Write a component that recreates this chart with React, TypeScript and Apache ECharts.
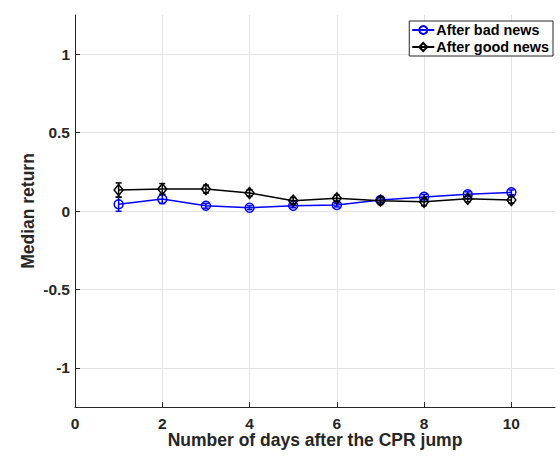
import React, { useEffect, useRef } from "react";
import * as echarts from "echarts";

const days = [1, 2, 3, 4, 5, 6, 7, 8, 9, 10];
const badMedian = [0.043, 0.077, 0.033, 0.021, 0.033, 0.038, 0.07, 0.09, 0.107, 0.119];
const badErr = [0.045, 0.03, 0.015, 0.012, 0.012, 0.012, 0.015, 0.015, 0.015, 0.015];
const goodMedian = [0.134, 0.14, 0.14, 0.115, 0.066, 0.081, 0.066, 0.059, 0.078, 0.07];
const goodErr = [0.045, 0.035, 0.025, 0.02, 0.02, 0.02, 0.025, 0.025, 0.02, 0.02];
const xTicks = [0, 2, 4, 6, 8, 10];
const yTicks = [-1, -0.5, 0, 0.5, 1];

const FONT = "'Liberation Sans', Arial, Helvetica, sans-serif";
const TXT = "#262626";

function errorSeries(name: string, med: number[], err: number[], color: string, z: number) {
  return {
    type: "custom",
    name: name + " err",
    z,
    silent: true,
    data: days.map((d, i) => [d, med[i] - err[i], med[i] + err[i]]),
    renderItem: (params: any, api: any) => {
      const lo = api.coord([api.value(0), api.value(1)]);
      const hi = api.coord([api.value(0), api.value(2)]);
      const cw = 3;
      const style = { stroke: color, lineWidth: 1.5 };
      return {
        type: "group",
        children: [
          { type: "line", shape: { x1: lo[0], y1: lo[1], x2: hi[0], y2: hi[1] }, style },
          { type: "line", shape: { x1: lo[0] - cw, y1: lo[1], x2: lo[0] + cw, y2: lo[1] }, style },
          { type: "line", shape: { x1: hi[0] - cw, y1: hi[1], x2: hi[0] + cw, y2: hi[1] }, style },
        ],
      };
    },
  };
}

export default function App() {
  const ref = useRef<HTMLDivElement>(null);
  useEffect(() => {
    const chart = echarts.init(ref.current!, undefined, { renderer: "svg" });
    chart.setOption({
      animation: false,
      backgroundColor: "#ffffff",
      textStyle: { fontFamily: FONT },
      grid: { left: 75, right: 5, top: 15, bottom: 50 },
      legend: {
        orient: "vertical",
        right: 7,
        top: 21,
        padding: [2, 4, 2, 2],
        itemGap: 3,
        itemWidth: 22,
        itemHeight: 10,
        backgroundColor: "#ffffff",
        borderColor: TXT,
        borderWidth: 1,
        borderRadius: 0,
        textStyle: { fontFamily: FONT, fontWeight: "bold", fontSize: 14.4, color: "#000", padding: [0, 0, 0, -3] },
        data: ["After bad news", "After good news"],
      },
      xAxis: {
        type: "value",
        min: 0,
        max: 11,
        name: "Number of days after the CPR jump",
        nameLocation: "middle",
        nameGap: 24,
        nameMoveOverlap: false,
        nameTextStyle: { fontFamily: FONT, fontWeight: "bold", fontSize: 17.5, color: TXT },
        axisLine: { show: true, onZero: false, lineStyle: { color: TXT, width: 1 } },
        axisTick: { show: true, inside: true, length: 5, customValues: xTicks, lineStyle: { color: TXT } },
        axisLabel: { customValues: xTicks, fontFamily: FONT, fontWeight: "bold", fontSize: 15.5, color: TXT, margin: 8 },
        splitLine: { show: true, lineStyle: { color: "#e3e3e3", width: 1 } },
      },
      yAxis: {
        type: "value",
        min: -1.25,
        max: 1.25,
        name: "Median return",
        nameLocation: "middle",
        nameGap: 38,
        nameMoveOverlap: false,
        nameTextStyle: { fontFamily: FONT, fontWeight: "bold", fontSize: 17.5, color: TXT },
        axisLine: { show: true, onZero: false, lineStyle: { color: TXT, width: 1 } },
        axisTick: { show: true, inside: true, length: 5, customValues: yTicks, lineStyle: { color: TXT } },
        axisLabel: { customValues: yTicks, fontFamily: FONT, fontWeight: "bold", fontSize: 15.5, color: TXT, margin: 5 },
        splitLine: { show: true, lineStyle: { color: "#e3e3e3", width: 1 } },
      },
      series: [
        errorSeries("After bad news", badMedian, badErr, "#0000ff", 3),
        {
          type: "line",
          name: "After bad news",
          z: 4,
          data: days.map((d, i) => [d, badMedian[i]]),
          symbol: "circle",
          symbolSize: 9,
          showSymbol: true,
          lineStyle: { color: "#0000ff", width: 1.5 },
          itemStyle: { color: "rgba(0,0,0,0)", borderColor: "#0000ff", borderWidth: 1.5 },
        },
        errorSeries("After good news", goodMedian, goodErr, "#000000", 5),
        {
          type: "line",
          name: "After good news",
          z: 6,
          data: days.map((d, i) => [d, goodMedian[i]]),
          symbol: "diamond",
          symbolSize: [9, 11],
          showSymbol: true,
          lineStyle: { color: "#000000", width: 1.5 },
          itemStyle: { color: "rgba(0,0,0,0)", borderColor: "#000000", borderWidth: 1.5 },
        },
      ],
    });
    return () => chart.dispose();
  }, []);
  return <div ref={ref} style={{ width: 560, height: 457, position: "absolute", left: 0, top: 0 }} />;
}
